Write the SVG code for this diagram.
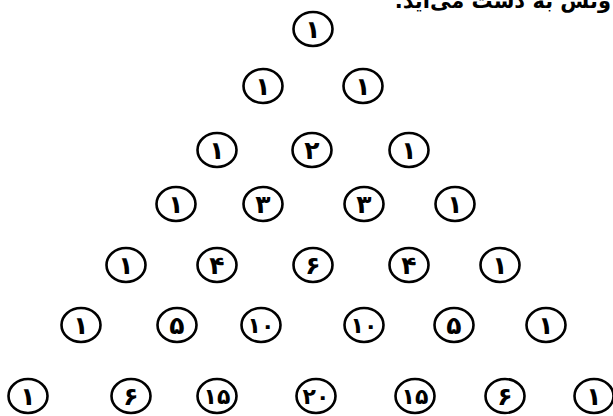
<svg xmlns="http://www.w3.org/2000/svg" width="613" height="416" viewBox="0 0 613 416">
<style>
.n ellipse{fill:#fff;stroke:#000;stroke-width:2.6}
.n text{font-family:"DejaVu Sans","Noto Sans",sans-serif;font-weight:bold;font-size:25px;text-anchor:middle;dominant-baseline:central;fill:#000}
.n text.w{font-size:22px}
.t{font-family:"DejaVu Sans","Noto Sans",sans-serif;font-weight:bold;font-size:21px;fill:#000}
</style>
<rect width="613" height="416" fill="#fff"/>
<text class="t" x="611" y="8" direction="rtl" text-anchor="start">ونش به دست می‌آید.</text>
<g id="connectors"></g>
<g id="r0c0" class="n"><ellipse cx="313" cy="29" rx="19.5" ry="17"/><text x="313" y="29">۱</text></g>
<g id="r1c0" class="n"><ellipse cx="263" cy="86" rx="19.5" ry="17"/><text x="263" y="86">۱</text></g>
<g id="r1c1" class="n"><ellipse cx="363" cy="86" rx="19.5" ry="17"/><text x="363" y="86">۱</text></g>
<g id="r2c0" class="n"><ellipse cx="217" cy="150" rx="19.5" ry="17"/><text x="217" y="150">۱</text></g>
<g id="r2c1" class="n"><ellipse cx="312" cy="150" rx="19.5" ry="17"/><text x="312" y="150">۲</text></g>
<g id="r2c2" class="n"><ellipse cx="409" cy="150" rx="19.5" ry="17"/><text x="409" y="150">۱</text></g>
<g id="r3c0" class="n"><ellipse cx="176" cy="204" rx="19.5" ry="17"/><text x="176" y="204">۱</text></g>
<g id="r3c1" class="n"><ellipse cx="263" cy="204" rx="19.5" ry="17"/><text x="263" y="204">۳</text></g>
<g id="r3c2" class="n"><ellipse cx="364" cy="204" rx="19.5" ry="17"/><text x="364" y="204">۳</text></g>
<g id="r3c3" class="n"><ellipse cx="455" cy="204" rx="19.5" ry="17"/><text x="455" y="204">۱</text></g>
<g id="r4c0" class="n"><ellipse cx="126" cy="265" rx="19.5" ry="17"/><text x="126" y="265">۱</text></g>
<g id="r4c1" class="n"><ellipse cx="217" cy="265" rx="19.5" ry="17"/><text x="217" y="265">۴</text></g>
<g id="r4c2" class="n"><ellipse cx="313" cy="265" rx="19.5" ry="17"/><text x="313" y="265">۶</text></g>
<g id="r4c3" class="n"><ellipse cx="409" cy="265" rx="19.5" ry="17"/><text x="409" y="265">۴</text></g>
<g id="r4c4" class="n"><ellipse cx="500" cy="265" rx="19.5" ry="17"/><text x="500" y="265">۱</text></g>
<g id="r5c0" class="n"><ellipse cx="81" cy="325" rx="19.5" ry="17"/><text x="81" y="325">۱</text></g>
<g id="r5c1" class="n"><ellipse cx="177" cy="325" rx="19.5" ry="17"/><text x="177" y="325">۵</text></g>
<g id="r5c2" class="n"><ellipse cx="261" cy="325" rx="19.5" ry="17"/><text class="w" x="261" y="325">۱۰</text></g>
<g id="r5c3" class="n"><ellipse cx="364" cy="325" rx="19.5" ry="17"/><text class="w" x="364" y="325">۱۰</text></g>
<g id="r5c4" class="n"><ellipse cx="454" cy="325" rx="19.5" ry="17"/><text x="454" y="325">۵</text></g>
<g id="r5c5" class="n"><ellipse cx="546" cy="325" rx="19.5" ry="17"/><text x="546" y="325">۱</text></g>
<g id="r6c0" class="n"><ellipse cx="28" cy="396" rx="19.5" ry="17"/><text x="28" y="396">۱</text></g>
<g id="r6c1" class="n"><ellipse cx="131" cy="396" rx="19.5" ry="17"/><text x="131" y="396">۶</text></g>
<g id="r6c2" class="n"><ellipse cx="217" cy="396" rx="19.5" ry="17"/><text class="w" x="217" y="396">۱۵</text></g>
<g id="r6c3" class="n"><ellipse cx="316" cy="396" rx="19.5" ry="17"/><text class="w" x="316" y="396">۲۰</text></g>
<g id="r6c4" class="n"><ellipse cx="415" cy="396" rx="19.5" ry="17"/><text class="w" x="415" y="396">۱۵</text></g>
<g id="r6c5" class="n"><ellipse cx="505" cy="396" rx="19.5" ry="17"/><text x="505" y="396">۶</text></g>
<g id="r6c6" class="n"><ellipse cx="594" cy="396" rx="19.5" ry="17"/><text x="594" y="396">۱</text></g>
</svg>
